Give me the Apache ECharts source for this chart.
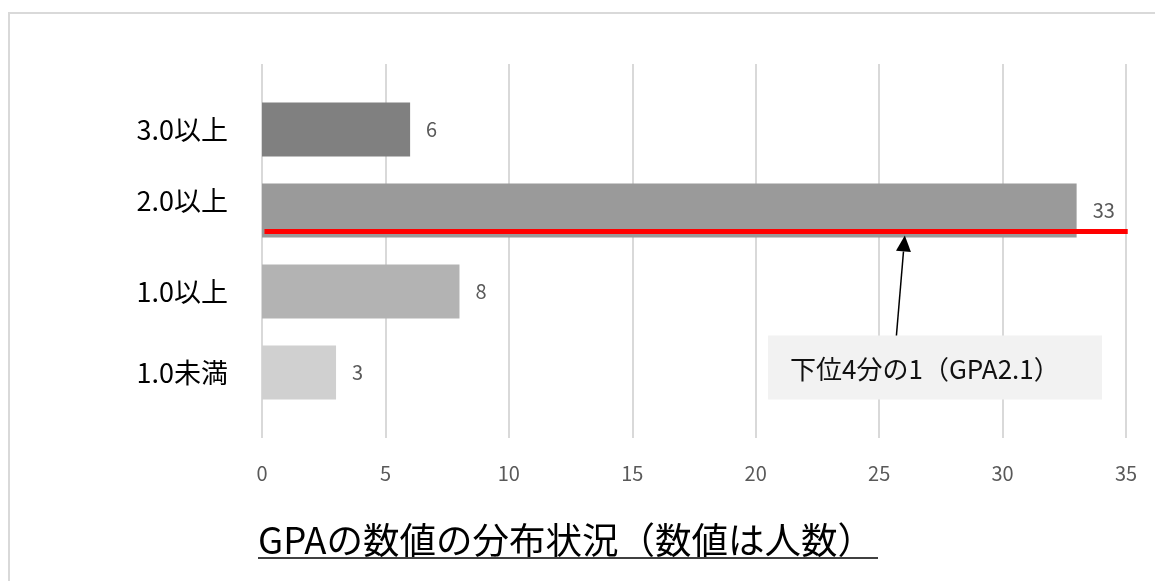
<!DOCTYPE html>
<html><head><meta charset="utf-8">
<script src="https://cdn.jsdelivr.net/npm/echarts@6/dist/echarts.min.js"></script>
<style>html,body{margin:0;padding:0;background:#fff}#c{width:1155px;height:581px}</style>
</head><body><div id="c"></div>
<script>
// ---- data ----
const categories = ['3.0以上', '2.0以上', '1.0以上', '1.0未満'];
const counts = [6, 33, 8, 3];
const xTicks = [0, 5, 10, 15, 20, 25, 30, 35];
const titleText = 'GPAの数値の分布状況（数値は人数）';
const noteText = '下位4分の1（GPA2.1）';
const noteCategory = '2.0以上';

// ---- styles ----
const barColors = ['#808080', '#9a9a9a', '#b3b3b3', '#d0d0d0'];
const FONT = '"Noto Sans CJK JP", "Noto Sans", sans-serif';

const chart = echarts.init(document.getElementById('c'), null, {renderer: 'canvas'});
const L = 262, R = 1155 - 1126;
const option = {
  animation: false,
  backgroundColor: '#fff',
  grid: [
    {left: L, right: R, top: 64, bottom: 581 - 438},
    {left: L, right: R, top: 89, height: 324}
  ],
  xAxis: [
    {gridIndex: 0, type: 'value', min: xTicks[0], max: xTicks[xTicks.length - 1], interval: xTicks[1] - xTicks[0],
     axisLine: {show: false}, axisTick: {show: false},
     splitLine: {lineStyle: {color: '#d9d9d9', width: 2}},
     axisLabel: {color: '#595959', fontSize: 20, margin: 25, fontFamily: FONT}},
    {gridIndex: 1, type: 'value', min: xTicks[0], max: xTicks[xTicks.length - 1], interval: xTicks[1] - xTicks[0], show: false}
  ],
  yAxis: [
    {gridIndex: 0, type: 'value', show: false, splitLine: {show: false}},
    {gridIndex: 1, type: 'category', data: categories, inverse: true,
     axisLine: {show: false}, axisTick: {show: false},
     axisLabel: {color: '#000', fontSize: 27, margin: 34, fontFamily: FONT,
       formatter: v => v === noteCategory ? '{up|' + v + '}' : v,
       rich: {up: {fontSize: 27, fontFamily: FONT, color: '#000', padding: [0, 0, 20, 0]}}}}
  ],
  series: [{
    type: 'bar', xAxisIndex: 1, yAxisIndex: 1, barWidth: 54,
    data: counts.map((v, i) => ({value: v, itemStyle: {color: barColors[i]}})),
    label: {show: true, position: 'right', distance: 16, color: '#595959', fontSize: 20, fontFamily: FONT}
  }]
};
chart.setOption(option);

const px = v => chart.convertToPixel({xAxisIndex: 1}, v);
const py = c => chart.convertToPixel({yAxisIndex: 1}, c);

const redY = py(noteCategory) + 21;
const boxX0 = px(20.5), boxX1 = px(34.03);
const boxY0 = py(categories[3]) - 37, boxY1 = py(categories[3]) + 27;
const tip = [px(26.0) + 1, redY + 4];
const tail = [px(25.7), boxY0];
const dx = tip[0] - tail[0], dy = tip[1] - tail[1];
const len = Math.sqrt(dx * dx + dy * dy);
const ux = dx / len, uy = dy / len;
const headL = 16, headW = 7.5;
const base = [tip[0] - headL * ux, tip[1] - headL * uy];
const nx = -uy, ny = ux;

chart.setOption({
  graphic: [
    {type: 'rect', z: 0, shape: {x: 9, y: 13, width: 1300, height: 800},
     style: {fill: 'none', stroke: '#d9d9d9', lineWidth: 2}},
    {type: 'line', z: 100, shape: {x1: px(0.1), y1: redY, x2: px(35.07), y2: redY},
     style: {stroke: '#ff0000', lineWidth: 5}},
    {type: 'rect', z: 100, shape: {x: boxX0, y: boxY0, width: boxX1 - boxX0, height: boxY1 - boxY0},
     style: {fill: '#f2f2f2'}},
    {type: 'text', z: 101, x: boxX0 + 22, y: (boxY0 + boxY1) / 2 + 2,
     style: {text: noteText, fill: '#111', font: '26px ' + FONT, textAlign: 'left', textVerticalAlign: 'middle'}},
    {type: 'line', z: 101, shape: {x1: tail[0], y1: tail[1], x2: base[0], y2: base[1]},
     style: {stroke: '#000', lineWidth: 1.5}},
    {type: 'polygon', z: 101, shape: {points: [tip, [base[0] + headW * nx, base[1] + headW * ny], [base[0] - headW * nx, base[1] - headW * ny]]},
     style: {fill: '#000'}},
    {type: 'text', z: 101, x: 258, y: 540,
     style: {text: titleText, fill: '#000', font: '36.5px ' + FONT, textAlign: 'left', textVerticalAlign: 'middle'}},
    {type: 'line', z: 101, shape: {x1: 258, y1: 558, x2: 878, y2: 558},
     style: {stroke: '#000', lineWidth: 1.5}}
  ]
});
</script></body></html>
